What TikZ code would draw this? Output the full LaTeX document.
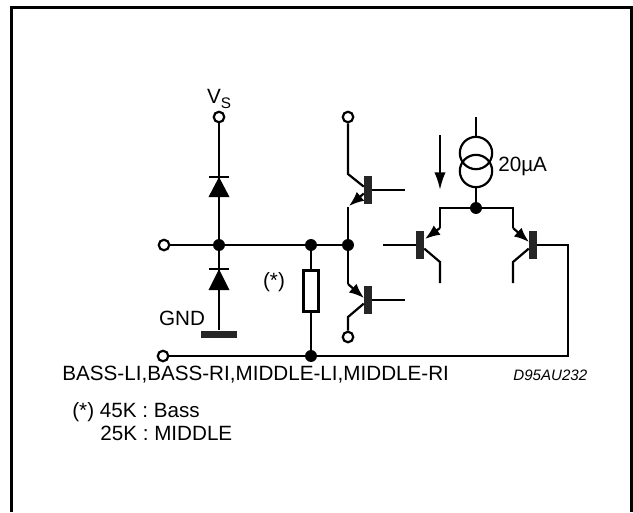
\documentclass[tikz,border=0pt]{standalone}
\usepackage{fontspec}
\setmainfont{Liberation Sans}
\usetikzlibrary{arrows.meta}

\tikzset{
  wire/.style={line width=1.25pt},
  opendot/.style={circle, draw, line width=1.25pt, fill=white, inner sep=0pt, minimum size=6pt},
  soliddot/.style={circle, fill=black, inner sep=0pt, minimum size=6.8pt},
  basebar/.style={rectangle, fill=black!85, inner sep=0pt, minimum width=4.4pt, minimum height=16pt},
  label/.style={inner sep=0pt, font=\fontsize{11.75}{14}\selectfont},
  emitter/.style={wire, -{Latex[length=8.5pt,width=6.6pt]}},
  srcring/.style={circle, draw, line width=1.25pt, inner sep=0pt, minimum size=18.4pt}
}

\begin{document}
\begin{tikzpicture}[x=0.02cm, y=-0.02cm]
        \useasboundingbox (0,0) rectangle (633,512);

        % Frame
        \draw[line width=1.7pt] (11.5,512) -- (11.5,7.5) -- (631.5,7.5) -- (631.5,512);

        % Nodes
        \node (Vs) at (219,117) [opendot] {};
        \node (In) at (164,245) [opendot] {};
        \node (Out) at (163,356) [opendot] {};
        \node (J1) at (219,245) [soliddot] {};
        \node (J2) at (311,245) [soliddot] {};
        \node (J3) at (348,245) [soliddot] {};
        \node (J4) at (311,356) [soliddot] {};
        \node (J5) at (476,208) [soliddot] {};
        \node (Gnd) at (219,334.5) [rectangle, fill=black!85, inner sep=0pt, minimum width=20pt, minimum height=4.2pt] {};
        \node (R) at (311,291) [rectangle, draw, line width=1.25pt, inner sep=0pt, minimum width=8.6pt, minimum height=23.4pt] {};
        \node (Tc) at (348,117) [opendot] {};
        \node (Be) at (348,337) [opendot] {};
        \node (Q1) at (368,190) [basebar] {};
        \node (Q2) at (368,300) [basebar] {};
        \node (Q3) at (420,245) [basebar] {};
        \node (Q4) at (533,245) [basebar] {};
        \node (S1) at (476,153) [srcring] {};
        \node (S2) at (476,171) [srcring] {};

        % Free ends and bends
        \coordinate (Q1c) at (348,174);
        \coordinate (Q1e) at (348,207);
        \coordinate (Q1t) at (349,206);
        \coordinate (Q1b) at (405,190);
        \coordinate (Q2e) at (348,284);
        \coordinate (Q2t) at (364,298);
        \coordinate (Q2c) at (348,317);
        \coordinate (Q2b) at (405,300);
        \coordinate (Q3b) at (383,245);
        \coordinate (Q3t) at (440,208);
        \coordinate (Q3e) at (440,228);
        \coordinate (Q3a) at (425,239);
        \coordinate (Q3c) at (440,262);
        \coordinate (Q3x) at (440,283);
        \coordinate (Q4t) at (513,208);
        \coordinate (Q4e) at (513,228);
        \coordinate (Q4a) at (529,242);
        \coordinate (Q4c) at (513,262);
        \coordinate (Q4x) at (513,283);
        \coordinate (Top) at (476,117);
        \coordinate (Rt) at (568,245);
        \coordinate (Rb) at (568,356);
        \coordinate (ArrA) at (440,135);
        \coordinate (ArrB) at (440,190);

        % Edges
        \draw[wire] (Vs) -- (J1);
        \draw[wire] (J1) -- (Gnd);
        \draw[wire] (In) -- (J1) -- (J2) -- (J3);
        \draw[wire] (J2) -- (R);
        \draw[wire] (R) -- (J4);
        \draw[wire] (Out) -- (J4) -- (Rb) -- (Rt) -- (Q4);
        \draw[wire] (Tc) -- (Q1c) -- (Q1);
        \draw[wire] (Q1) -- (Q1b);
        \draw[emitter] (Q1) -- (Q1t);
        \draw[wire] (J3) -- (Q1e);
        \draw[wire] (J3) -- (Q2e);
        \draw[emitter] (Q2e) -- (Q2t);
        \draw[wire] (Q2) -- (Q2b);
        \draw[wire] (Q2) -- (Q2c) -- (Be);
        \draw[wire] (Top) -- (S1);
        \draw[wire] (S2) -- (J5);
        \draw[wire] (Q3e) -- (Q3t) -- (J5) -- (Q4t) -- (Q4e);
        \draw[wire] (Q3b) -- (Q3);
        \draw[emitter] (Q3e) -- (Q3a);
        \draw[wire] (Q3) -- (Q3c) -- (Q3x);
        \draw[emitter] (Q4e) -- (Q4a);
        \draw[wire] (Q4) -- (Q4c) -- (Q4x);
        \draw[wire, -{Latex[length=10pt,width=6.4pt]}] (ArrA) -- (ArrB);

        % Diodes
        \fill (208.5,197) -- (229.5,197) -- (219,177) -- cycle;
        \draw[line width=0.9pt] (209,177) -- (229,177);
        \fill (208.5,290) -- (229.5,290) -- (219,269) -- cycle;
        \draw[line width=0.9pt] (209,269) -- (229,269);

        % Labels
        \node (VsL) at (219,99) [label] {V\raisebox{-3pt}{\fontsize{8.7}{10}\selectfont S}};
        \node (GndL) at (182,318) [label] {GND};
        \node (RL) at (274,282) [label] {(*)};
        \node (SL) at (498,166) [label, anchor=west] {20µA};
        \node (Names) at (62,374.5) [label, anchor=west] {BASS-LI,BASS-RI,MIDDLE-LI,MIDDLE-RI};
        \node (Code) at (513,375) [label, anchor=west, font=\fontsize{8.6}{10}\selectfont\itshape] {D95AU232};
        \node (Note1) at (72,412) [label, anchor=west] {(*) 45K : Bass};
        \node (Note2) at (100,433) [label, anchor=west] {25K : MIDDLE};
    \end{tikzpicture}
\end{document}
